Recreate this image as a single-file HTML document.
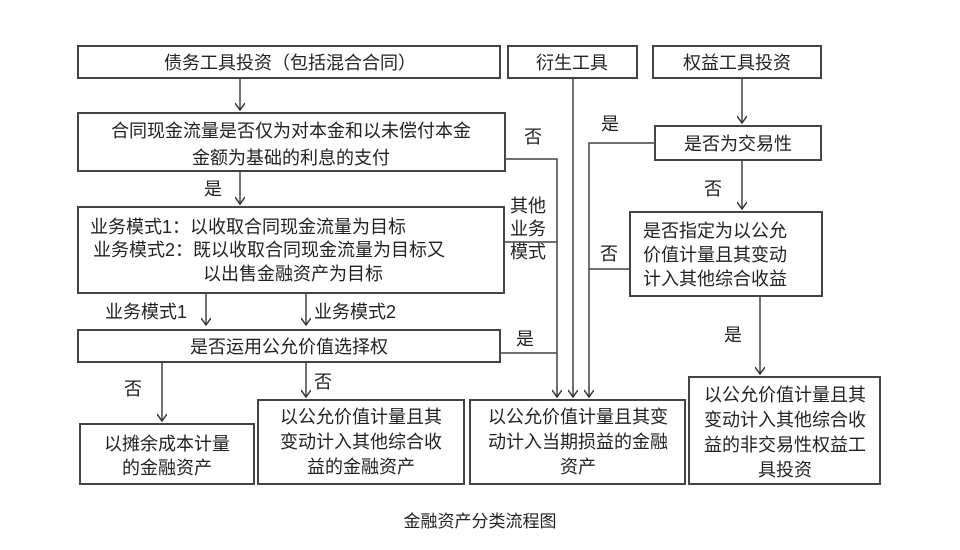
<!DOCTYPE html>
<html><head><meta charset="utf-8"><style>
html,body{margin:0;padding:0;background:#fff;}
svg{display:block;}
text{font-family:"Liberation Sans","Noto Sans CJK SC",sans-serif;font-size:18px;fill:#222;}
</style></head><body>
<svg width="960" height="550" viewBox="0 0 960 550">
<defs><marker id="a" markerWidth="10" markerHeight="10" refX="9" refY="5" orient="auto" markerUnits="userSpaceOnUse"><path d="M2,0 L9,5 L2,10" fill="none" stroke="#333" stroke-width="1.5"/></marker></defs>
<g fill="none" stroke="#444" stroke-width="2">
<rect x="78" y="46" width="422" height="32"/>
<rect x="508" y="46" width="129" height="32"/>
<rect x="653" y="46" width="168" height="32"/>
<rect x="78" y="113" width="427" height="58"/>
<rect x="78" y="207" width="426" height="86"/>
<rect x="78" y="330" width="422" height="32"/>
<rect x="80" y="424" width="174" height="60"/>
<rect x="258" y="400" width="206" height="84"/>
<rect x="470" y="400" width="215" height="84"/>
<rect x="689" y="377" width="191" height="107"/>
<rect x="655" y="126" width="166" height="34"/>
<rect x="630" y="212" width="192" height="84"/>
</g>
<g fill="none" stroke="#444" stroke-width="1.5">
<line x1="240" y1="79" x2="240" y2="110" marker-end="url(#a)"/>
<line x1="240" y1="172" x2="240" y2="204" marker-end="url(#a)"/>
<line x1="206" y1="294" x2="206" y2="325" marker-end="url(#a)"/>
<line x1="306" y1="294" x2="306" y2="325" marker-end="url(#a)"/>
<line x1="162" y1="363" x2="162" y2="421" marker-end="url(#a)"/>
<line x1="306" y1="363" x2="306" y2="397" marker-end="url(#a)"/>
<polyline points="505,159 557,159 557,397" marker-end="url(#a)"/>
<line x1="504" y1="242" x2="557" y2="242"/>
<line x1="500" y1="353" x2="557" y2="353"/>
<line x1="573" y1="79" x2="573" y2="397" marker-end="url(#a)"/>
<polyline points="655,143 589,143 589,397" marker-end="url(#a)"/>
<line x1="630" y1="269" x2="589" y2="269"/>
<line x1="742" y1="79" x2="742" y2="123" marker-end="url(#a)"/>
<line x1="742" y1="161" x2="742" y2="209" marker-end="url(#a)"/>
<line x1="760" y1="297" x2="760" y2="374" marker-end="url(#a)"/>
</g>
<g text-anchor="middle">
<text x="290" y="69">债务工具投资（包括混合合同）</text>
<text x="572" y="69">衍生工具</text>
<text x="737" y="69">权益工具投资</text>
<text x="291" y="137">合同现金流量是否仅为对本金和以未偿付本金</text>
<text x="291" y="164">金额为基础的利息的支付</text>
<text x="289" y="353">是否运用公允价值选择权</text>
<text x="167" y="450">以摊余成本计量</text>
<text x="167" y="474">的金融资产</text>
<text x="361" y="423">以公允价值计量且其</text>
<text x="361" y="448">变动计入其他综合收</text>
<text x="361" y="473">益的金融资产</text>
<text x="578" y="423">以公允价值计量且其变</text>
<text x="578" y="448">动计入当期损益的金融</text>
<text x="578" y="473">资产</text>
<text x="785" y="401">以公允价值计量且其</text>
<text x="785" y="426">变动计入其他综合收</text>
<text x="785" y="451">益的非交易性权益工</text>
<text x="785" y="476">具投资</text>
<text x="738" y="150">是否为交易性</text>
<text x="480" y="527" style="font-size:17px">金融资产分类流程图</text>
</g>
<text x="90" y="233">业务模式1：以收取合同现金流量为目标</text>
<text x="93" y="256">业务模式2：既以收取合同现金流量为目标又</text>
<text x="203" y="280">以出售金融资产为目标</text>
<text x="643" y="237">是否指定为以公允</text>
<text x="643" y="261">价值计量且其变动</text>
<text x="643" y="285">计入其他综合收益</text>
<text x="204" y="195">是</text>
<text x="105" y="318">业务模式1</text>
<text x="314" y="318">业务模式2</text>
<text x="124" y="395">否</text>
<text x="314" y="388">否</text>
<text x="524" y="143">否</text>
<text x="510" y="212">其他</text>
<text x="510" y="235">业务</text>
<text x="510" y="258">模式</text>
<text x="516" y="345">是</text>
<text x="601" y="130">是</text>
<text x="600" y="260">否</text>
<text x="704" y="195">否</text>
<text x="724" y="341">是</text>
</svg>
</body></html>
